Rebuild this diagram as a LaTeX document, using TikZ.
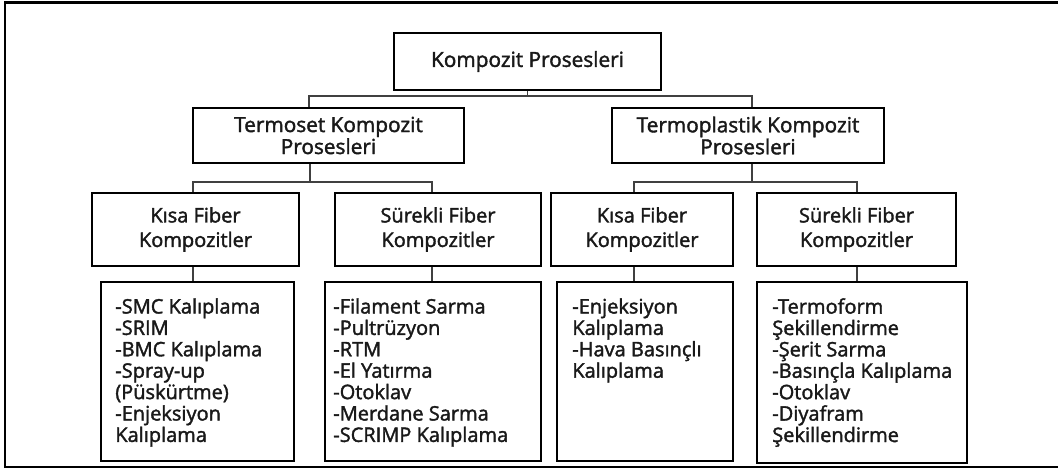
\documentclass[tikz,border=0pt]{standalone}
\usepackage{fontspec}
\setmainfont{Open Sans}[FakeBold=1.8]
\usetikzlibrary{calc}
\tikzset{
  box/.style={draw=black, line width=1.8pt, fill=white, inner sep=0pt, text=black!90},
  hdr/.style={box, align=center, font=\fontsize{20.8}{22}\selectfont},
  hdrb/.style={box, align=center, font=\fontsize{20}{24.5}\selectfont},
  listbox/.style={draw=black, line width=1.8pt, inner sep=0pt},
  listtxt/.style={anchor=north west, inner sep=0pt, align=left, text=black!90, font=\fontsize{20}{21.4}\selectfont},
  conn/.style={draw=black!75, line width=1.6pt},
  frame/.style={draw=black, line width=2.4pt}
}
\begin{document}
\begin{tikzpicture}[x=1pt,y=-1pt]
\useasboundingbox (0,0) rectangle (1058,474);
\fill[white] (0,0) rectangle (1058,474);
\draw[frame] (1062,2.5) -- (5,2.5) -- (5,467) -- (1062,467);

% level 1
\node[hdr, minimum width=267pt, minimum height=57pt] (top) at (527.5,61.5) {Kompozit Prosesleri};
% level 2
\node[hdr, minimum width=271pt, minimum height=55pt] (ts) at (328.5,135.5) {Termoset Kompozit\\Prosesleri};
\node[hdr, minimum width=272pt, minimum height=55pt] (tp) at (748,135.5) {Termoplastik Kompozit\\Prosesleri};
% level 3
\node[hdrb, minimum width=207pt, minimum height=73pt] (k1) at (195.5,229.5) {Kısa Fiber\\Kompozitler};
\node[hdrb, minimum width=206pt, minimum height=73pt] (s1) at (438,229.5) {Sürekli Fiber\\Kompozitler};
\node[hdrb, minimum width=182pt, minimum height=73pt] (k2) at (642,229.5) {Kısa Fiber\\Kompozitler};
\node[hdrb, minimum width=199pt, minimum height=73pt] (s2) at (856.5,229.5) {Sürekli Fiber\\Kompozitler};
% lists
\node[listbox, minimum width=193pt, minimum height=179pt] (l1) at (197.5,371.5) {};
\node[listbox, minimum width=216pt, minimum height=179pt] (l2) at (433,371.5) {};
\node[listbox, minimum width=176pt, minimum height=179pt] (l3) at (645,371.5) {};
\node[listbox, minimum width=210pt, minimum height=181pt] (l4) at (862,372.5) {};

\node[listtxt] (t1) at ($(l1.north west)+(15,17)$) {-SMC Kalıplama\\-SRIM\\-BMC Kalıplama\\-Spray-up\\(Püskürtme)\\-Enjeksiyon\\Kalıplama};
\node[listtxt] (t2) at ($(l2.north west)+(9,17)$) {-Filament Sarma\\-Pultrüzyon\\-RTM\\-El Yatırma\\-Otoklav\\-Merdane Sarma\\-SCRIMP Kalıplama};
\node[listtxt] (t3) at ($(l3.north west)+(16,17)$) {-Enjeksiyon\\Kalıplama\\-Hava Basınçlı\\Kalıplama};
\node[listtxt] (t4) at ($(l4.north west)+(16,17)$) {-Termoform\\Şekillendirme\\-Şerit Sarma\\-Basınçla Kalıplama\\-Otoklav\\-Diyafram\\Şekillendirme};

% connector geometry
\coordinate (bus1) at (0,96);
\coordinate (bus2) at (0,182);
\coordinate (xa) at (309,0);
\coordinate (xb) at (752,0);
\coordinate (xc) at (310,0);
\coordinate (d1) at (193,0);
\coordinate (d2) at (432,0);
\coordinate (d3) at (634,0);
\coordinate (d4) at (857,0);

\draw[conn] (top.south) -- (top.south |- bus1);
\draw[conn] (ts.north -| xa) |- (bus1 -| xb) -- (tp.north -| xb);
\draw[conn] (ts.south -| xc) -- (bus2 -| xc);
\draw[conn] (k1.north -| d1) |- (bus2 -| d2) -- (s1.north -| d2);
\draw[conn] (tp.south -| xb) -- (bus2 -| xb);
\draw[conn] (k2.north -| d3) |- (bus2 -| d4) -- (s2.north -| d4);
\draw[conn] (k1.south -| d1) -- (l1.north -| d1);
\draw[conn] (s1.south -| d2) -- (l2.north -| d2);
\draw[conn] (k2.south -| d3) -- (l3.north -| d3);
\draw[conn] (s2.south -| d4) -- (l4.north -| d4);
\end{tikzpicture}
\end{document}
